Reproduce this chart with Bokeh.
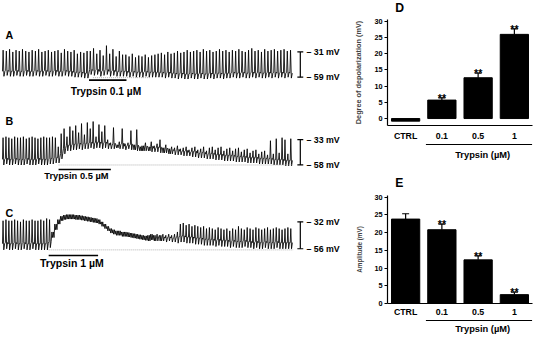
from bokeh.plotting import figure
from bokeh.models import Range1d, FactorRange, ColumnDataSource, Whisker, TeeHead, FixedTicker
from bokeh.layouts import row, column
from bokeh.embed import file_html
from bokeh.resources import INLINE
from bokeh.core.properties import value

FONT = "Liberation Sans"

# ---------------- data (mV, one entry per spike slot) ----------------
a_peak = [-29, -30, -28, -31, -29, -30, -28, -30, -31, -29, -30, -28, -31, -30, -29, -31, -30, -29, -32, -28,
          -30, -31, -29, -33, -31, -32, -30,
          -30, -27, -33, -29, -35, -24, -33, -28, -36, -30, -34,
          -34, -36, -33, -37, -35, -36, -34, -37, -35, -34,
          -33, -32, -34, -31, -33, -32, -30, -32, -31, -29, -31, -30, -29, -31, -28, -30, -29, -31, -30, -28,
          -30, -29, -31, -29, -30, -28, -30, -31, -29, -27, -30, -29, -31, -28, -30, -29, -28, -30, -29, -28,
          -30, -29]
a_trough = [-58, -57, -58, -58, -57, -58, -58, -57, -58, -58, -57, -58, -58, -57, -58, -58, -57, -58, -58, -57,
            -58, -58, -59, -59, -59, -60, -60,
            -56, -57, -56, -58, -57, -56, -58, -57, -58, -58, -58,
            -58, -59, -58, -59, -59, -59, -58, -59, -59, -59,
            -59, -59, -60, -59, -60, -60, -61, -60, -61, -61, -60, -61, -61, -60, -61, -61, -60, -61, -60, -60,
            -61, -60, -60, -59, -60, -60, -59, -60, -60, -59, -60, -59, -60, -60, -59, -60, -59, -60, -59, -60,
            -59, -60]
a_scale = [-31, -59]
a_trypsin = [26.8, 38.4]          # application period (slot units)
a_baseline = [28, 46, -59.5]      # dotted reference line: from, to, level

b_peak = [-31, -30, -31, -32, -30, -31, -31, -30, -32, -31, -30, -31, -32, -31, -30, -31, -31, -30, -31,
          -40, -27, -22, -30, -20, -24, -19, -26,
          -17, -28, -16, -22, -15, -30, -18, -25, -19, -33,
          -36, -21, -38, -35, -22, -37, -36, -24, -38, -23, -40, -39,
          -36, -40, -35, -39, -37, -33, -41, -38, -42, -40, -41, -39, -42, -41, -40, -43, -41, -40, -43, -42,
          -40, -44, -41, -40, -43, -41, -40, -44, -42, -41, -44, -42, -41, -45, -43, -42, -46, -44, -43, -47,
          -45, -44, -48, -34, -47, -32, -46, -31, -33, -47, -32]
b_trough = [-58, -57, -58, -58, -57, -58, -58, -58, -57, -58, -58, -58, -57, -58, -58, -58, -57, -57, -56,
            -56, -52, -47, -44, -44, -43, -43, -42,
            -43, -42, -42, -41, -42, -41, -41, -42, -41, -42,
            -42, -42, -41, -42, -42, -43, -42, -43, -43, -44, -44, -44,
            -44, -44, -45, -45, -45, -46, -46, -46, -47, -47, -48, -48, -48, -49, -49, -49, -50, -50, -51, -51,
            -51, -52, -52, -52, -53, -53, -53, -54, -54, -54, -54, -55, -55, -55, -55, -56, -56, -56, -56, -57,
            -57, -57, -57, -57, -58, -58, -58, -58, -59, -59, -59]
b_scale = [-33, -58]
b_trypsin = [19.3, 37.3]
b_baseline = [19.3, 100, -58]

c_peak = [-31, -30, -31, -31, -30, -31, -32, -30, -31, -31, -30, -31, -31, -30, -31, -29,
          -30, -41, -34, -30, -27, -26, -25.5, -25.5, -25.5, -26, -26, -26.5, -27, -27.5, -28, -28.5, -29,
          -30, -32, -34, -36, -38, -39, -40, -40, -41, -41, -41.5, -42, -42.5, -43, -43.5, -44, -44.5,
          -44, -43, -44, -43, -44, -43, -44, -43, -44, -43, -41,
          -34, -33, -35, -34, -36, -35,
          -36, -37, -36, -38, -37, -38, -39, -37, -38, -39, -38, -40, -38, -39, -36, -38, -39, -37, -38, -39,
          -37, -38, -39, -38, -37, -39, -38, -37, -38, -39, -38, -37, -38]
c_trough = [-57, -56, -57, -57, -56, -57, -57, -56, -57, -57, -56, -57, -57, -57, -57, -57,
            -55, -46, -39, -34, -31, -30, -29.5, -29.5, -29.5, -30, -30, -30.5, -31, -31.5, -32, -32.5, -33,
            -34, -36, -38, -40, -42, -43, -44, -44, -45, -45, -45.5, -46, -46.5, -47, -47.5, -48, -48.5,
            -49, -48, -49, -49, -49, -49, -50, -49, -50, -50, -51,
            -50, -50, -51, -51, -51, -52,
            -52, -52, -53, -53, -53, -53, -54, -53, -54, -54, -54, -55, -54, -55, -55, -55, -54, -55, -55, -56,
            -55, -56, -56, -55, -56, -56, -56, -55, -56, -56, -56, -56, -56]
c_scale = [-32, -56]
c_trypsin = [15.9, 32.9]
c_baseline = [15.9, 100, -57]

cats = ["CTRL", "0.1", "0.5", "1"]
group_name = "Trypsin (\u00b5M)"
group_members = ["0.1", "0.5", "1"]
d_mean = [-0.8, 5.7, 12.6, 26.0]
d_sem = [0.0, 0.7, 1.4, 1.7]
e_mean = [23.8, 20.8, 12.3, 2.5]
e_sem = [1.5, 1.6, 1.1, 0.7]
sig = ["", "**", "**", "**"]
y_ticks = [0, 5, 10, 15, 20, 25, 30]

# ---------------- layout (design grid scaled into 534 x 336) ----------------
SX = 534 / 542
SY = 336 / 346
WL, WR = 348, 186
FS = 0.975   # font scale


def fs(px):
    return "%.1fpx" % (px * FS)


def trace_panel(h, y0, peaks, troughs, scale, scale_ref, tryp, tryp_text, text_ref, text_fs, bar_ref,
                baseline, letter, letter_ref):
    n = len(peaks)
    p0, p1 = (6 - 4) * SX, (301 - 4) * SX
    mx = n / (p1 - p0)

    def X(ref):
        return ((ref - 4) * SX - p0) * mx

    q0, q1 = (scale_ref[0] - y0) * SY, (scale_ref[1] - y0) * SY
    my = (scale[1] - scale[0]) / (q1 - q0)

    def Y(ref):
        return scale[0] + ((ref - y0) * SY - q0) * my

    p = figure(width=WL, height=h, x_range=Range1d(X(4), X(4 + WL / SX)),
               y_range=Range1d(Y(y0 + h / SY), Y(y0)), toolbar_location=None, output_backend="svg",
               x_axis_location=None, y_axis_location=None, min_border=0, outline_line_color=None)
    p.xgrid.visible = False
    p.ygrid.visible = False

    xs, ys = [], []
    for i, (pk, tr) in enumerate(zip(peaks, troughs)):
        if pk - tr < 6:
            # plateau / small oscillations: dense zigzag band
            xs += [i, i + 0.25, i + 0.5, i + 0.75]
            ys += [pk, tr, pk, tr]
        else:
            r = min(5.5, 0.6 * (pk - tr))
            xs += [i, i + 0.2, i + 0.45, i + 0.75]
            ys += [tr + r, pk, tr, tr + r]
    p.line(xs, ys, color="black", line_width=0.85)

    p.line([baseline[0], baseline[1]], [baseline[2], baseline[2]], color="#b0b0b0",
           line_width=1, line_dash="1 1")
    yb = Y(bar_ref)
    p.segment(x0=[tryp[0]], x1=[tryp[1]], y0=[yb], y1=[yb], color="black", line_width=1.6)
    p.text(x=[X(text_ref[0])], y=[Y(text_ref[1])], text=[tryp_text], text_font=value(FONT),
           text_font_size=fs(text_fs), text_font_style="bold", text_align="center", text_baseline="middle",
           text_color="black")
    # scale bar
    xs_ = X(308.3)
    p.segment(x0=[xs_, X(305.3), X(305.3)], x1=[xs_, X(311.3), X(311.3)],
              y0=[scale[0], scale[0], scale[1]], y1=[scale[1], scale[0], scale[1]],
              color="black", line_width=1.2)
    p.text(x=[X(314.5)] * 2, y=scale, text=["\u2013 %d mV" % (-v) for v in scale], text_font=value(FONT),
           text_font_size=fs(9), text_font_style="bold", text_align="left", text_baseline="middle",
           text_color="black")
    p.text(x=[X(letter_ref[0])], y=[Y(letter_ref[1])], text=[letter], text_font=value(FONT),
           text_font_size=fs(11), text_font_style="bold", text_align="left", text_baseline="middle",
           text_color="black")
    return p


pa = trace_panel(103, 4, a_peak, a_trough, a_scale, (57, 83), a_trypsin, "Trypsin 0.1 \u00b5M",
                 (111, 98), 10.5, 86, a_baseline, "A", (9, 40))
pb = trace_panel(87, 110, b_peak, b_trough, b_scale, (147.3, 173.3), b_trypsin, "Trypsin 0.5 \u00b5M",
                 (81, 185), 9.5, 178, b_baseline, "B", (9, 128))
pc = trace_panel(146, 200, c_peak, c_trough, c_scale, (232.3, 260), c_trypsin, "Trypsin 1 \u00b5M",
                 (76.5, 275), 10.8, 267, c_baseline, "C", (9, 223))

xr = FactorRange(factors=cats)
BL, BR = 39, 2


def header_panel(h, letter, ly):
    p = figure(width=WR, height=h, x_range=Range1d(0, WR), y_range=Range1d(h, 0), toolbar_location=None,
               output_backend="svg", x_axis_location=None, y_axis_location=None, min_border=0,
               outline_line_color=None)
    p.xgrid.visible = False
    p.ygrid.visible = False
    p.text(x=[10 * SX], y=[ly], text=[letter], text_font=value(FONT), text_font_size=fs(12.5),
           text_font_style="bold", text_align="left", text_baseline="middle", text_color="black")
    return p


def bar_panel(h, top, bottom, yr, mean, sem, ylabel, ylabel_fs, xstandoff):
    p = figure(width=WR, height=h, x_range=xr, y_range=Range1d(*yr), toolbar_location=None,
               output_backend="svg", min_border_left=BL, min_border_right=BR, min_border_top=top,
               min_border_bottom=bottom, outline_line_color=None)
    p.xgrid.visible = False
    p.ygrid.visible = False
    p.vbar(x=cats, top=mean, bottom=0, width=0.78, color="black")
    rows = [(c, m, m + e) for c, m, e in zip(cats, mean, sem) if e > 0]
    src = ColumnDataSource(dict(x=[r[0] for r in rows], lo=[r[1] for r in rows], up=[r[2] for r in rows]))
    p.add_layout(Whisker(source=src, base="x", lower="lo", upper="up", line_color="black", line_width=1.2,
                         upper_head=TeeHead(size=7, line_color="black", line_width=1.2), lower_head=None))
    st = [(c, m + e, s) for c, m, e, s in zip(cats, mean, sem, sig) if s]
    p.text(x=[s[0] for s in st], y=[s[1] for s in st], text=[s[2] for s in st], text_font=value(FONT),
           text_font_size=fs(11), text_font_style="bold", text_align="center",
           text_baseline="alphabetic", text_color="black")
    for ax in (p.xaxis[0], p.yaxis[0]):
        ax.axis_line_width = 1.2
        ax.axis_line_color = "black"
        ax.major_label_text_font = FONT
        ax.major_label_text_font_style = "bold"
        ax.major_label_text_color = "black"
        ax.minor_tick_line_color = None
    p.xaxis.major_tick_line_color = None
    p.xaxis.major_tick_out = 0
    p.xaxis.major_tick_in = 0
    p.xaxis.major_label_text_font_size = fs(9)
    p.xaxis.major_label_standoff = xstandoff
    p.yaxis.ticker = FixedTicker(ticks=y_ticks)
    p.yaxis.major_tick_out = 3
    p.yaxis.major_tick_in = 0
    p.yaxis.major_tick_line_width = 1.2
    p.yaxis.major_label_text_font_size = fs(7.5)
    p.yaxis.major_label_standoff = 2
    p.yaxis.axis_label = ylabel
    p.yaxis.axis_label_text_font = FONT
    p.yaxis.axis_label_text_font_style = "bold"
    p.yaxis.axis_label_text_font_size = fs(ylabel_fs)
    p.yaxis.axis_label_standoff = 8
    return p


def bracket_panel(h, line_y, text_y):
    p = figure(width=WR, height=h, x_range=xr, y_range=Range1d(h, 0), toolbar_location=None,
               output_backend="svg", x_axis_location=None, y_axis_location=None, min_border_left=BL,
               min_border_right=BR, min_border_top=0, min_border_bottom=0, outline_line_color=None)
    p.xgrid.visible = False
    p.ygrid.visible = False
    g0 = cats.index(group_members[0]) + 0.06
    g1 = cats.index(group_members[-1]) + 0.99
    p.segment(x0=[g0], x1=[g1], y0=[line_y], y1=[line_y], color="black", line_width=1.2)
    p.text(x=[(g0 + g1) / 2 + 0.1], y=[text_y], text=[group_name], text_font=value(FONT),
           text_font_size=fs(9.5), text_font_style="bold", text_align="center", text_baseline="middle",
           text_color="black")
    return p


pdh = header_panel(16, "D", 7.3)
pd_ = bar_panel(127, 3, 16, (-2.15, 30.59), d_mean, d_sem, "Degree of depolarization (mV)", 7.5, 5)
pdb = bracket_panel(24, 1, 11.7)
peh = header_panel(25, "E", 15.7)
pe = bar_panel(127, 3, 14, (0, 30.45), e_mean, e_sem, "Amplitude (mV)", 6.5, 3)
peb = bracket_panel(17, 1, 9.7)

layout = row(column(pa, pb, pc), column(pdh, pd_, pdb, peh, pe, peb))
open("out.html", "w").write(file_html(layout, INLINE))
